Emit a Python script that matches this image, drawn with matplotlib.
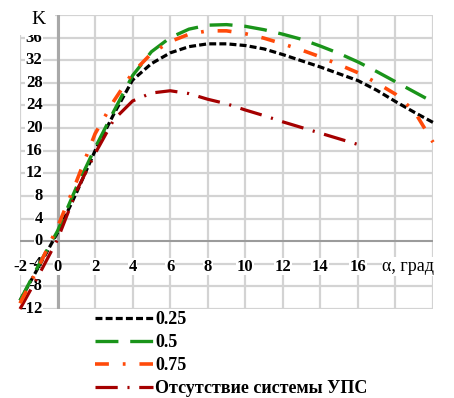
import matplotlib
matplotlib.use("Agg")
import matplotlib.pyplot as plt
from matplotlib.patches import Rectangle

plt.rcParams['lines.scale_dashes'] = False
plt.rcParams['font.family'] = ['Liberation Serif', 'DejaVu Serif']

# angle of attack, deg
alpha = [-2, -1, 0, 1, 2, 3, 4, 5, 6, 7, 8, 9, 10, 11, 12, 13, 14, 15, 16, 17, 18, 19, 20]
k_025 = [-10.5, -4.5, 1.5, 8.5, 16.0, 22.5, 28.5, 31.4, 33.3, 34.4, 34.9, 34.9, 34.6,
         34.0, 33.0, 31.9, 30.8, 29.6, 28.4, 26.7, 24.7, 22.8, 21.0]
k_05 = [-10.5, -4.2, 1.8, 9.5, 16.5, 23.0, 29.3, 33.5, 36.0, 37.5, 38.2, 38.3, 38.0,
        37.4, 36.6, 35.7, 34.5, 33.2, 31.7, 30.0, 28.2, 26.4, 24.6]
k_075 = [-11.0, -4.5, 2.5, 10.5, 19.0, 24.8, 29.8, 33.2, 35.3, 36.6, 37.2, 37.2, 36.7,
         35.9, 34.9, 33.8, 32.6, 31.2, 29.8, 28.0, 26.0, 23.0, 17.5]
alpha_none = [-2, -1, 0, 1, 2, 3, 4, 5, 6, 7, 8, 9, 10, 11, 12, 13, 14, 15, 16]
k_none = [-12.0, -6.0, 0.3, 8.8, 15.5, 21.5, 24.8, 26.2, 26.6, 26.1, 25.1, 24.3, 23.2,
          22.2, 21.1, 20.1, 19.1, 18.1, 17.1]

labels = ['0.25', '0.5', '0.75', 'Отсутствие системы УПС']
x_ticks = [-2, 0, 2, 4, 6, 8, 10, 12, 14, 16]
y_ticks = [-12, -8, -4, 0, 4, 8, 12, 16, 20, 24, 28, 32, 36]

fig = plt.figure(figsize=(4.54, 3.98), dpi=100)
ax = fig.add_axes([20 / 454, 1 - 309 / 398, 413 / 454, 294 / 398])
ax.set_xlim(-2, 20)
ax.set_ylim(-12, 40)

grid_c = '#d3d3d3'
for gx in range(-2, 21, 2):
    ax.axvline(gx, color=grid_c, lw=1.6, zorder=0.5)
for gy in range(-12, 41, 4):
    ax.axhline(gy, color=grid_c, lw=1.6, zorder=0.5)
ax.axvline(0, color='#a8a8a8', lw=2.2, zorder=0.6)
ax.axhline(0, color='#9a9a9a', lw=1.4, zorder=0.6)
for s in ax.spines.values():
    s.set_visible(False)
ax.set_xticks([])
ax.set_yticks([])

lab_font = dict(fontsize=12, fontweight='bold')
box = dict(facecolor='white', edgecolor='none', pad=0.5)
for yt in y_ticks:
    ax.text(-0.8, yt, str(yt), ha='right', va='center', bbox=box, zorder=2, **lab_font)
for xt in x_ticks:
    ax.text(xt, -4.5, str(xt), ha='center', va='center', bbox=box, zorder=2.2, **lab_font)
ax.text(17.3, -4.5, 'α, град', ha='left', va='center', fontsize=13, bbox=box, zorder=2.2)

l1, = ax.plot(alpha, k_025, color='black', lw=2.3, dashes=(5, 2.3), clip_on=False, zorder=3)
l2, = ax.plot(alpha, k_05, color='#1a941a', lw=2.4, dashes=(16.5, 8.5), clip_on=False, zorder=3)
l3, = ax.plot(alpha, k_075, color='#ff4a0a', lw=2.6, dashes=(10, 10, 2, 10), clip_on=False, zorder=3.1)
l4, = ax.plot(alpha_none, k_none, color='#a50000', lw=2.3, dashes=(16, 7, 1.5, 7), clip_on=False, zorder=3)

# white box behind the K label, as in the source
fig.patches.append(Rectangle((0, 1 - 35 / 398), 55 / 454, 35 / 398, transform=fig.transFigure,
                             facecolor='white', edgecolor='none', zorder=5))
fig.text(38 / 454, 1 - 19 / 398, 'K', ha='center', va='center', fontsize=14, zorder=6)

fig.legend([l1, l2, l3, l4], labels, loc='upper left', bbox_to_anchor=(95 / 454, 1 - 311 / 398),
           frameon=False, borderpad=0, borderaxespad=0, handlelength=3.2, handletextpad=0.15,
           labelspacing=0.33, prop=dict(family='Liberation Serif', size=13, weight='bold'))

fig.savefig('out.png', dpi=100)
